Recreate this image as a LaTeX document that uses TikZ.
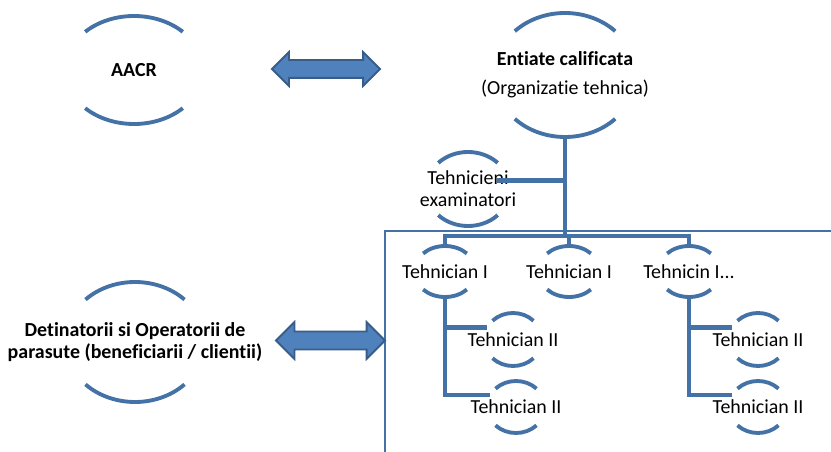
\documentclass[tikz,border=0pt]{standalone}
\usepackage{fontspec}
\setmainfont{Carlito}[Ligatures=NoCommon]
\usetikzlibrary{shapes.geometric}
\usetikzlibrary{shapes.arrows}
\usetikzlibrary{positioning}
\definecolor{orgline}{RGB}{68,114,166}
\definecolor{arrfill}{RGB}{79,129,189}
\definecolor{arrdraw}{RGB}{56,93,138}
\tikzset{
    Bub/.style 2 args = {ellipse, inner sep=0pt, outer sep=0pt, minimum width=2*#1*0.03cm, minimum height=2*#2*0.03cm}
}
\tikzset{
    Arc/.style = {draw=orgline, line width=3.3pt}
}
\tikzset{
    Link/.style = {draw=orgline, line width=3.8pt}
}
\tikzset{
    Both/.style = {double arrow, draw=arrdraw, fill=arrfill, line width=1.6pt, inner sep=0pt, inner ysep=0.24cm, minimum width=0pt, double arrow head extend=#1}
}

\begin{document}
\begin{tikzpicture}[
    x=0.03cm, y=-0.03cm,
    font=\fontsize{17}{19}\selectfont,
    every label/.style={align=center}
]
\useasboundingbox (0,0) rectangle (831,452);
% frame round the technicians
\draw[orgline, line width=1pt] (385,460) |- (840,231);
% left side
\node[Bub={69}{54}, label={center:\textbf{AACR}}] at (134,70) (aacr) {};
\node[Bub={70}{60}, label={center:{\textbf{Detinatorii si Operatorii de}\\\textbf{parasute (beneficiarii / clientii)}}}] at (135,342) (clienti) {};
% organisation
\node[Bub={71}{62}, label={center:{\textbf{Entiate calificata}\\[5.5pt](Organizatie tehnica)}}] at (565,75) (ent) {};
\node[Bub={42}{37}, label={center:{Tehnicieni\\examinatori}}] at (468,189) (exam) {};
\node[Bub={31}{25.5}, label={center:Tehnician I}] at (445,271.5) (tehA) {};
\node[Bub={31}{25.5}, label={center:Tehnician I}] at (569,271.5) (tehB) {};
\node[Bub={31}{25.5}, label={center:Tehnicin I...}] at (689,271.5) (tehC) {};
\node[Bub={29}{26.5}, label={center:Tehnician II}] at (513,339.5) (tehA1) {};
\node[Bub={29}{26}, label={center:Tehnician II}] at (516,407) (tehA2) {};
\node[Bub={29}{26.5}, label={center:Tehnician II}] at (758,339.5) (tehC1) {};
\node[Bub={29}{26}, label={center:Tehnician II}] at (758,407) (tehC2) {};
\foreach \n/\a/\b in {aacr/69/54, clienti/70/60, ent/71/62, exam/42/37,
    tehA/31/25.5, tehB/31/25.5, tehC/31/25.5,
    tehA1/29/26.5, tehA2/29/26, tehC1/29/26.5, tehC2/29/26}
  \draw[Arc] (\n.north east) arc[start angle=-45, end angle=-135, x radius=\a, y radius=\b]
             (\n.south west) arc[start angle=135, end angle=45, x radius=\a, y radius=\b];
% block arrows
\node[Both=0.24cm, minimum height=3.24cm] at (326,69) (arrup) {};
\node[Both=0.285cm, minimum height=3.27cm] at (330.5,340.5) (arrdown) {};
% tree
\coordinate (hub) at (565,236);
\coordinate (examR) at ([shift={(29,-8.5)}]exam.center);
\draw[Link] (ent.south) -- (hub);
\draw[Link] (examR) -- (examR -| ent.south);
\draw[Link] (tehA.north) |- (hub) -| (tehC.north);
\draw[Link] (tehB.north) |- (hub);
\draw[Link] (tehA.south) |- (tehA1.155);
\draw[Link] (tehA.south) |- (tehA2.155);
\draw[Link] (tehC.south) |- (tehC1.155);
\draw[Link] (tehC.south) |- (tehC2.155);
\end{tikzpicture}
\end{document}
